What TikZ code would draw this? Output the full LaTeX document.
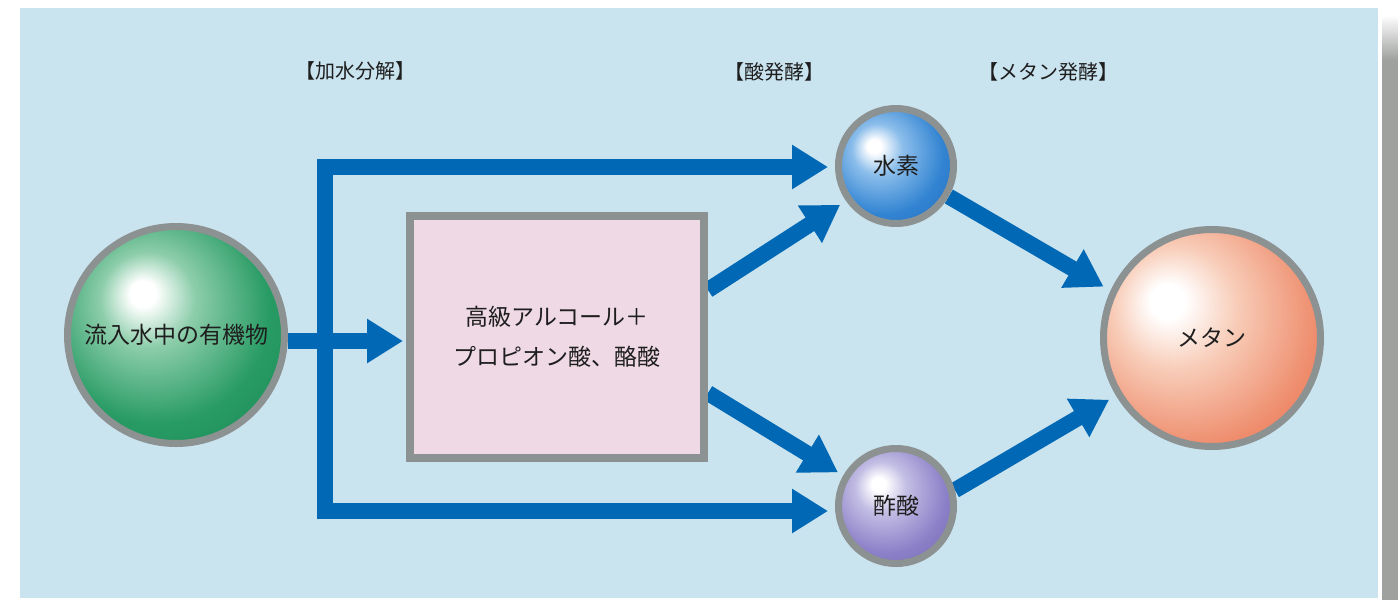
\documentclass[tikz,border=0pt]{standalone}
\usepackage{fontspec}
\setmainfont{Noto Sans CJK JP}
\usetikzlibrary{arrows.meta}
\definecolor{bgblue}{RGB}{201,227,239}
\definecolor{flowblue}{RGB}{0,104,180}
\definecolor{ring}{RGB}{140,145,145}
\definecolor{boxpink}{RGB}{238,217,228}
\definecolor{txt}{RGB}{30,30,30}
\definecolor{gHi}{RGB}{140,205,170}
\definecolor{gMid}{RGB}{40,155,100}
\definecolor{gEdge}{RGB}{18,125,72}
\definecolor{bHi}{RGB}{140,190,235}
\definecolor{bMid}{RGB}{50,132,210}
\definecolor{bEdge}{RGB}{25,95,180}
\definecolor{pHi}{RGB}{195,190,228}
\definecolor{pMid}{RGB}{140,128,200}
\definecolor{pEdge}{RGB}{100,86,168}
\definecolor{sHi}{RGB}{248,205,185}
\definecolor{sMid}{RGB}{238,140,108}
\definecolor{sEdge}{RGB}{225,100,70}
\definecolor{shadowA}{RGB}{158,161,158}
\pgfdeclareradialshading{greenball}{\pgfpoint{-8bp}{10bp}}{color(0bp)=(white); color(3bp)=(white); color(11bp)=(gHi); color(26bp)=(gMid); color(48bp)=(gEdge); color(60bp)=(gEdge)}
\pgfdeclareradialshading{blueball}{\pgfpoint{-10bp}{9bp}}{color(0bp)=(white); color(3bp)=(white); color(11bp)=(bHi); color(26bp)=(bMid); color(48bp)=(bEdge); color(60bp)=(bEdge)}
\pgfdeclareradialshading{purpleball}{\pgfpoint{-8bp}{10bp}}{color(0bp)=(white); color(3bp)=(white); color(11bp)=(pHi); color(26bp)=(pMid); color(48bp)=(pEdge); color(60bp)=(pEdge)}
\pgfdeclareradialshading{salmonball}{\pgfpoint{-11bp}{9bp}}{color(0bp)=(white); color(4bp)=(white); color(14bp)=(sHi); color(30bp)=(sMid); color(50bp)=(sEdge); color(62bp)=(sEdge)}
\pgfdeclarelayer{bottom}
\pgfdeclarelayer{background}
\pgfsetlayers{bottom,background,main}
\tikzset{
  sphere/.style={circle, draw=ring, line width=7pt, inner sep=0pt, text=txt, font=\fontsize{23}{28}\selectfont},
  hdr/.style={text=txt, inner sep=0pt, font=\fontsize{20}{24}\selectfont},
  flow/.style={draw=flowblue, line width=16pt, line join=miter, -{Triangle[width=42pt,length=36pt]}}
}
\begin{document}
\begin{tikzpicture}[x=1pt,y=-1pt]
\useasboundingbox (0,0) rectangle (1398,600);
\begin{pgfonlayer}{bottom}
\fill[white] (0,0) rectangle (1398,600);
\fill[bgblue] (20,8) rectangle (1378,598);
\shade[top color=white, bottom color=shadowA] (1382,15) rectangle (1398,60);
\fill[shadowA] (1382,60) rectangle (1398,600);
\end{pgfonlayer}
% headers
\node[hdr] (l1) at (355,71) {【加水分解】};
\node[hdr] (l2) at (774,72) {【酸発酵】};
\node[hdr] (l3) at (1048,72) {【メタン発酵】};
% nodes
\node[sphere, shading=greenball, minimum size=217pt] (src) at (176,335) {流入水中の有機物};
\node[draw=ring, line width=8pt, fill=boxpink, minimum width=294pt, minimum height=242pt, align=center, text=txt, font=\fontsize{23}{40}\selectfont] (box) at (557,337) {高級アルコール＋\\プロピオン酸、酪酸};
\node[sphere, shading=blueball, minimum size=115pt] (h2) at (896,166) {水素};
\node[sphere, shading=purpleball, minimum size=115pt] (ac) at (896,506) {酢酸};
\node[sphere, shading=salmonball, minimum size=217pt] (me) at (1212,338) {メタン};
\coordinate (j) at (325,341);
% connectors
\begin{pgfonlayer}{background}
\draw[flow, shorten >=3pt] (src.east |- j) -- (box.west |- j);
\draw[flow, shorten >=7pt] (j) |- ([yshift=-1pt]h2.west);
\draw[flow, shorten >=7pt] (j) |- ([yshift=-5pt]ac.west);
\draw[flow, shorten >=7pt] ([yshift=47pt]box.east) -- (h2.215);
\draw[flow, shorten >=6pt] ([yshift=-56pt]box.east) -- (ac.150);
\draw[flow, shorten >=8pt] (h2.-30) -- (me.155);
\draw[flow, shorten >=8pt] (ac.15) -- (me.211);
\end{pgfonlayer}
\end{tikzpicture}
\end{document}
